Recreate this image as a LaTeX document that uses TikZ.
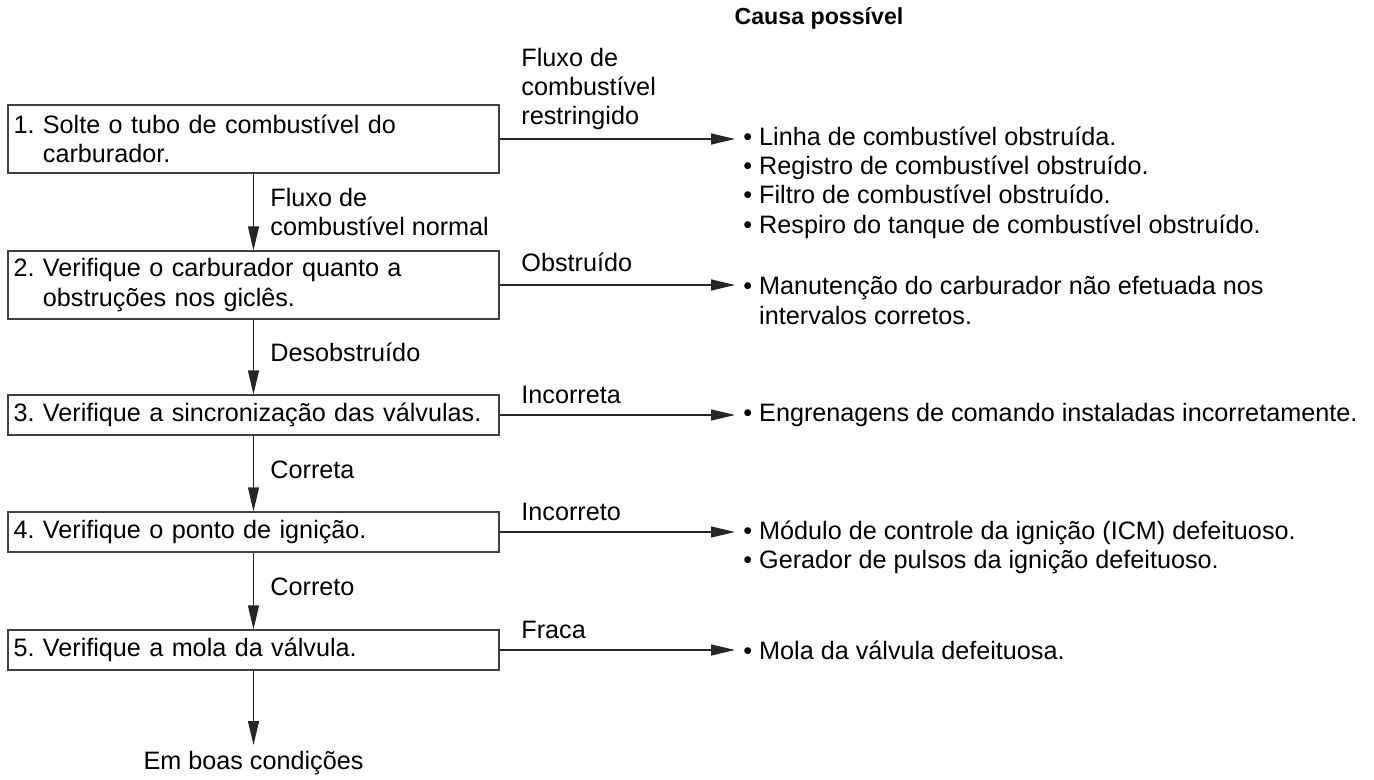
\documentclass[tikz,border=0pt]{standalone}
\usepackage{fontspec}
\setmainfont{Liberation Sans}
\usetikzlibrary{arrows.meta}
\begin{document}
\frenchspacing
\begin{tikzpicture}[x=0.5pt,y=-0.5pt,
 every node/.style={font=\fontsize{12.6}{14.7}\selectfont, inner sep=0pt},
 stepbox/.style={draw=black!75, line width=0.6pt, minimum width=245.5pt, text width=240pt, align=left, inner xsep=2.75pt, anchor=center},
 flow/.style={draw=black!85, line width=0.6pt, -{Triangle[length=12pt,width=5.5pt]}},
 lbl/.style={anchor=west, align=left}]
\useasboundingbox (0,0) rectangle (1374,780);
% title
\node[font=\fontsize{11.6}{14}\selectfont\bfseries] (title) at (819,18) {Causa possível};
% boxes
\node[stepbox, minimum height=34pt] (b1) at (253.5,139) {1. Solte o tubo de combustível do\\\phantom{1. }carburador.};
\node[stepbox, minimum height=34pt] (b2) at (253.5,285) {2. Verifique o carburador quanto a\\\phantom{2. }obstruções nos giclês.};
\node[stepbox, minimum height=20pt] (b3) at (253.5,415) {3. Verifique a sincronização das válvulas.};
\node[stepbox, minimum height=20pt] (b4) at (253.5,532) {4. Verifique o ponto de ignição.};
\node[stepbox, minimum height=20pt] (b5) at (253.5,650) {5. Verifique a mola da válvula.};
% causes
\node[lbl] (c1) at (743,182.5) {• Linha de combustível obstruída.\\• Registro de combustível obstruído.\\• Filtro de combustível obstruído.\\• Respiro do tanque de combustível obstruído.};
\node[lbl] (c2) at (743,300.5) {• Manutenção do carburador não efetuada nos\\\phantom{• }intervalos corretos.};
\node[lbl] (c3) at (743,415) {• Engrenagens de comando instaladas incorretamente.};
\node[lbl] (c4) at (743,547.5) {• Módulo de controle da ignição (ICM) defeituoso.\\• Gerador de pulsos da ignição defeituoso.};
\node[lbl] (c5) at (743,650) {• Mola da válvula defeituosa.};
% arrow end points
\coordinate (e1) at (735,139);
\coordinate (e2) at (735,285);
\coordinate (e3) at (735,415);
\coordinate (e4) at (735,532);
\coordinate (e5) at (735,650);
\coordinate (e6) at (253.5,745);
% horizontal connectors
\draw[flow] (b1.east) -- (e1);
\draw[flow] (b2.east) -- (e2);
\draw[flow] (b3.east) -- (e3);
\draw[flow] (b4.east) -- (e4);
\draw[flow] (b5.east) -- (e5);
% vertical connectors
\draw[flow] (b1.south) -- (b2.north);
\draw[flow] (b2.south) -- (b3.north);
\draw[flow] (b3.south) -- (b4.north);
\draw[flow] (b4.south) -- (b5.north);
\draw[flow] (b5.south) -- (e6);
% labels
\node[lbl] (l1) at (521,89) {Fluxo de\\combustível\\restringido};
\node[lbl] (l2) at (521,262) {Obstruído};
\node[lbl] (l3) at (521,395) {Incorreta};
\node[lbl] (l4) at (521,512) {Incorreto};
\node[lbl] (l5) at (521,630) {Fraca};
\node[lbl] (v1) at (270,212) {Fluxo de\\combustível normal};
\node[lbl] (v2) at (270,352) {Desobstruído};
\node[lbl] (v3) at (270,470) {Correta};
\node[lbl] (v4) at (270,587) {Correto};
\node (fim) at (253.5,763) {Em boas condições};
\end{tikzpicture}
\end{document}
